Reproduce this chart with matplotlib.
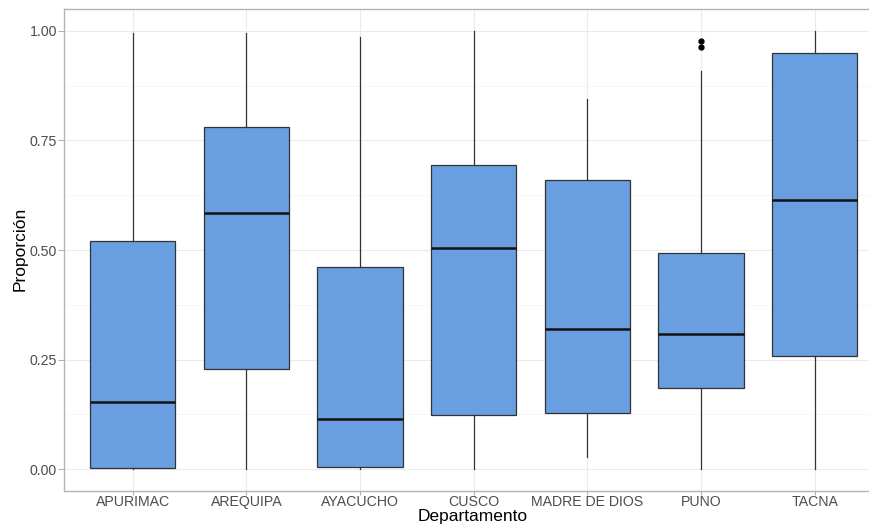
import matplotlib.pyplot as plt

plt.rcParams["font.family"] = ["Liberation Sans", "DejaVu Sans"]

# Werte
departamentos = ["APURIMAC", "AREQUIPA", "AYACUCHO", "CUSCO",
                 "MADRE DE DIOS", "PUNO", "TACNA"]
whisker_low = [0.000, 0.000, 0.000, 0.000, 0.027, 0.000, 0.000]
q1 = [0.002, 0.228, 0.005, 0.123, 0.128, 0.184, 0.257]
median = [0.154, 0.584, 0.115, 0.504, 0.320, 0.308, 0.614]
q3 = [0.520, 0.780, 0.461, 0.694, 0.660, 0.493, 0.950]
whisker_high = [0.995, 0.996, 0.986, 1.000, 0.845, 0.908, 1.000]
outliers = [[], [], [], [], [], [0.977, 0.964], []]

stats = []
for i, name in enumerate(departamentos):
    stats.append({"label": name, "whislo": whisker_low[i], "q1": q1[i],
                  "med": median[i], "q3": q3[i], "whishi": whisker_high[i],
                  "fliers": outliers[i]})

W, H = 870, 524
fig = plt.figure(figsize=(W / 100, H / 100), dpi=100)
# Panel ragt rechts ueber den Bildrand hinaus (wie im Original)
ax = fig.add_axes([64.5 / W, 1 - 491 / H, 818.5 / W, 482 / H])

positions = list(range(1, len(departamentos) + 1))
ax.bxp(stats, positions=positions, widths=0.75, patch_artist=True,
       boxprops=dict(facecolor="#699fe0", edgecolor="#333333", linewidth=0.9),
       medianprops=dict(color="#111111", linewidth=1.8),
       whiskerprops=dict(color="#333333", linewidth=0.9),
       capprops=dict(linewidth=0),
       flierprops=dict(marker="o", markerfacecolor="black", markeredgecolor="black",
                       markersize=3.5, linestyle="none"),
       zorder=3)

ax.set_xlim(0.4, 7.6)
ax.set_ylim(-0.05, 1.05)
ax.set_yticks([0.0, 0.25, 0.5, 0.75, 1.0])
ax.set_yticklabels(["0.00", "0.25", "0.50", "0.75", "1.00"])
ax.set_yticks([0.125, 0.375, 0.625, 0.875], minor=True)
ax.set_xticks(positions)
ax.set_xticklabels(departamentos)

# Gitter im Stil von theme_light
ax.grid(True, which="major", color="#ebebeb", linewidth=0.8, zorder=0)
ax.grid(True, which="minor", axis="y", color="#f3f3f3", linewidth=0.5, zorder=0)
ax.set_axisbelow(True)
for s in ax.spines.values():
    s.set_color("#b3b3b3")
    s.set_linewidth(1.0)

ax.tick_params(axis="both", which="major", colors="#b3b3b3", length=4,
               width=0.8, labelcolor="#4d4d4d", labelsize=10.2)
ax.tick_params(axis="x", length=3, pad=0)
ax.tick_params(axis="y", pad=1.5)
ax.tick_params(axis="both", which="minor", length=0)

# Achsentitel (unten wie im Original knapp am Bildrand)
ax.set_xlabel("Departamento", fontsize=12.5, color="black", va="top")
ax.xaxis.set_label_coords((473 - 64.5) / 818.5, -(509.5 - 491) / 482)
ax.set_ylabel("Proporción", fontsize=12.5, color="black")
ax.yaxis.set_label_coords(-(64.5 - 28) / 818.5, (491 - 249) / 482)

fig.savefig("out.png", dpi=100)
